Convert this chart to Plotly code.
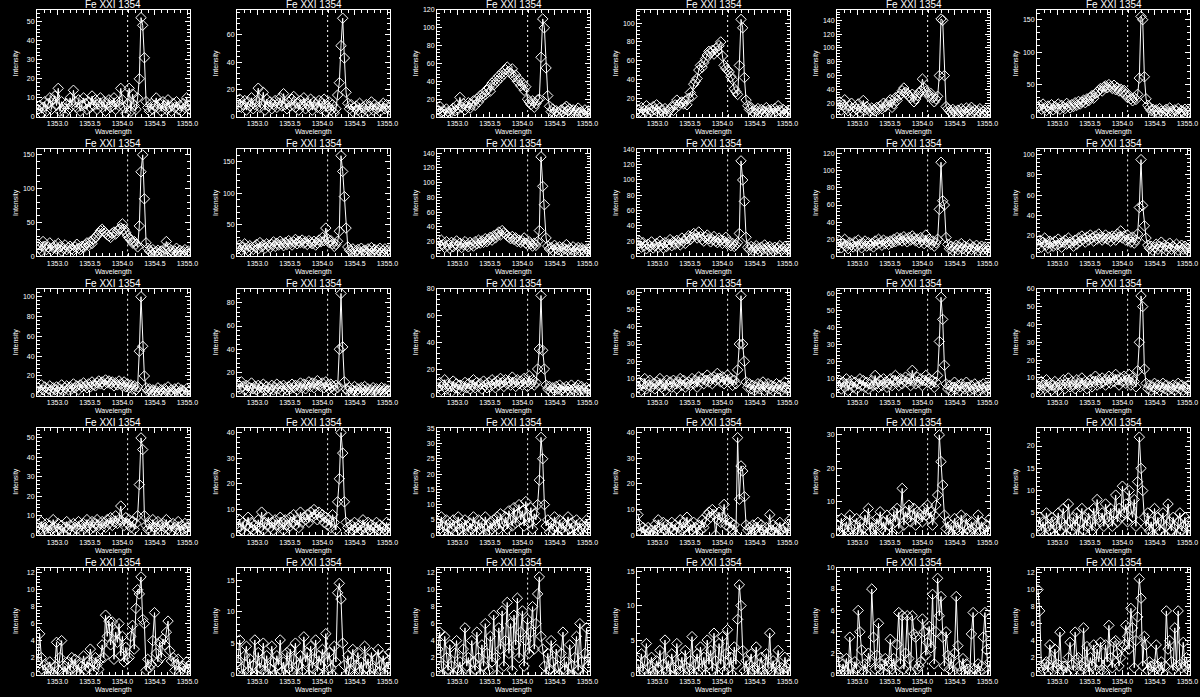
import numpy as np
import plotly.graph_objects as go
from plotly.subplots import make_subplots

# ---------------- data ----------------
TITLE = "Fe XXI 1354"
X_LABEL = "Wavelength"
Y_LABEL = "Intensity"
REST_WAVELENGTH = 1354.08
WAVE_START = 1352.70
WAVE_STEP = 0.026
N_PIX = 91
wavelength = np.round(WAVE_START + WAVE_STEP * np.arange(N_PIX), 3)
X_TICKS = [1353.0, 1353.5, 1354.0, 1354.5, 1355.0]

I01 = [4, 6, 2, 5, 8, 3, 7, 10, 4, 9, 11, 6, 15, 3, 8, 5, 2, 7, 4, 10, 6, 14, 8, 5, 9, 3, 6, 10, 7, 4,
       8, 5, 11, 6, 9, 4, 7, 10, 5, 8, 3, 7, 9, 5, 6, 10, 4, 8, 6, 15, 9, 5, 2, 7, 15, 3, 12, 6, 4, 10,
       20, 52, 48, 31, 8, 5, 3, 7, 4, 6, 10, 5, 7, 3, 8, 6, 4, 9, 5, 3, 7, 5, 8, 4, 6, 3, 7, 5, 10, 6, 4]
I02 = [10, 13, 7, 9, 12, 5, 11, 8, 14, 6, 9, 12, 21, 7, 10, 18, 5, 13, 8, 11, 6, 9, 12, 7, 10, 14, 8, 17, 9, 6,
       11, 8, 13, 15, 7, 10, 5, 12, 9, 14, 6, 10, 8, 13, 5, 11, 9, 7, 12, 6, 10, 13, 4, 8, 11, 5, 9, 3, 6, 16,
       25, 52, 72, 43, 18, 10, 6, 9, 4, 7, 8, 5, 10, 3, 7, 6, 9, 4, 8, 11, 5, 9, 6, 7, 4, 8, 10, 6, 9, 7, 5]
I03 = [8, 12, 5, 7, 3, 9, 6, 4, 8, 10, 7, 13, 9, 22, 11, 15, 8, 12, 16, 10, 14, 18, 13, 20, 17, 24, 22, 27, 25, 30,
       33, 29, 38, 36, 42, 40, 46, 44, 50, 48, 53, 56, 51, 49, 54, 45, 47, 40, 42, 35, 38, 30, 34, 20, 17, 14, 18, 11, 15, 19,
       20, 67, 110, 100, 55, 24, 12, 6, 9, 4, 7, 5, 3, 8, 6, 10, 12, 7, 9, 5, 8, 4, 7, 10, 5, 6, 3, 8, 5, 7, 4]
I04 = [8, 5, 10, 3, 7, 12, 4, 9, 6, 11, 8, 13, 5, 10, 7, 4, 9, 3, 6, 8, 11, 7, 13, 18, 12, 15, 16, 14, 17, 13,
       20, 26, 22, 35, 38, 41, 50, 55, 53, 58, 62, 66, 70, 68, 71, 67, 73, 70, 76, 80, 65, 55, 52, 50, 48, 43, 40, 30, 27, 24,
       55, 104, 95, 42, 18, 12, 8, 10, 6, 4, 7, 9, 5, 8, 3, 6, 10, 7, 5, 8, 4, 9, 6, 12, 7, 5, 8, 3, 6, 4, 7]
I05 = [15, 22, 10, 18, 25, 12, 9, 16, 20, 8, 14, 11, 19, 7, 13, 24, 10, 15, 12, 8, 13, 10, 9, 14, 11, 16, 12, 20, 15, 18,
       22, 25, 14, 19, 28, 24, 30, 33, 38, 42, 36, 34, 30, 28, 33, 22, 26, 31, 35, 38, 55, 42, 37, 35, 30, 34, 28, 22, 26, 30,
       60, 142, 140, 60, 15, 12, 9, 6, 11, 8, 5, 10, 7, 12, 9, 6, 13, 8, 11, 14, 7, 10, 6, 9, 12, 5, 8, 10, 7, 6, 9]
I06 = [15, 18, 12, 20, 14, 10, 17, 13, 19, 11, 16, 14, 20, 12, 18, 15, 13, 21, 17, 14, 19, 16, 22, 18, 24, 20, 23, 26, 22, 28,
       25, 30, 33, 29, 36, 38, 41, 44, 40, 46, 48, 45, 50, 47, 44, 49, 42, 45, 40, 43, 38, 41, 35, 30, 33, 28, 25, 30, 27, 35,
       60, 155, 150, 62, 28, 18, 14, 10, 12, 8, 11, 7, 13, 9, 6, 10, 12, 8, 14, 9, 7, 11, 9, 13, 6, 10, 8, 12, 9, 7, 10]
I07 = [18, 12, 8, 22, 15, 10, 14, 20, 9, 13, 16, 11, 19, 14, 8, 12, 17, 10, 13, 15, 11, 9, 14, 18, 12, 10, 15, 13, 17, 20,
       16, 22, 19, 25, 28, 31, 34, 38, 40, 37, 35, 32, 30, 28, 34, 36, 33, 38, 40, 42, 48, 40, 35, 30, 27, 24, 20, 22, 18, 14,
       45, 125, 150, 85, 20, 12, 8, 6, 10, 5, 7, 9, 4, 8, 6, 11, 22, 13, 7, 9, 5, 8, 12, 6, 9, 4, 7, 10, 6, 8, 5]
I08 = [12, 18, 10, 15, 20, 13, 9, 17, 14, 11, 16, 19, 12, 22, 15, 18, 13, 20, 17, 14, 19, 23, 16, 21, 18, 24, 20, 17, 22, 19,
       25, 21, 18, 23, 27, 20, 24, 22, 26, 21, 23, 19, 25, 22, 20, 24, 18, 21, 26, 23, 30, 25, 45, 28, 22, 25, 20, 16, 19, 24,
       40, 160, 135, 95, 45, 15, 10, 8, 12, 6, 9, 11, 7, 13, 8, 10, 6, 12, 9, 14, 8, 11, 7, 10, 13, 6, 9, 12, 8, 10, 7]
I09 = [18, 14, 22, 16, 12, 20, 15, 11, 19, 13, 17, 21, 14, 18, 12, 16, 20, 15, 13, 19, 16, 14, 20, 17, 22, 18, 21, 19, 24, 20,
       23, 26, 22, 28, 25, 30, 33, 29, 35, 32, 30, 28, 26, 24, 27, 23, 25, 20, 22, 19, 21, 25, 18, 16, 20, 17, 14, 18, 15, 20,
       35, 135, 95, 70, 25, 14, 10, 12, 8, 15, 11, 9, 13, 7, 12, 10, 16, 8, 11, 9, 13, 7, 10, 12, 8, 11, 9, 6, 10, 8, 12]
I10 = [15, 20, 12, 18, 14, 10, 16, 13, 19, 11, 14, 17, 12, 20, 15, 11, 18, 13, 16, 22, 14, 19, 16, 21, 18, 15, 24, 20, 17, 23,
       27, 22, 25, 30, 28, 24, 32, 26, 22, 20, 25, 28, 23, 19, 22, 26, 20, 18, 24, 21, 17, 20, 25, 16, 19, 14, 17, 13, 15, 18,
       30, 125, 100, 72, 25, 12, 9, 13, 8, 11, 14, 10, 7, 12, 9, 15, 11, 8, 13, 10, 7, 12, 9, 11, 14, 8, 10, 13, 9, 11, 8]
I11 = [13, 18, 10, 15, 20, 12, 9, 16, 14, 11, 17, 12, 19, 14, 10, 15, 18, 12, 16, 13, 15, 11, 18, 14, 20, 16, 13, 19, 15, 17,
       14, 18, 16, 20, 17, 22, 19, 21, 18, 23, 20, 17, 22, 19, 24, 21, 18, 20, 16, 22, 19, 15, 25, 17, 20, 14, 18, 12, 16, 20,
       55, 110, 65, 60, 22, 14, 9, 12, 7, 10, 13, 8, 11, 15, 9, 12, 7, 10, 14, 8, 11, 9, 13, 7, 10, 12, 8, 11, 9, 6, 10]
I12 = [12, 16, 9, 14, 18, 11, 8, 15, 13, 10, 15, 11, 17, 13, 9, 14, 16, 12, 18, 14, 13, 10, 16, 12, 18, 15, 20, 17, 14, 19,
       16, 21, 18, 15, 20, 17, 22, 19, 16, 18, 21, 17, 19, 15, 20, 18, 16, 22, 19, 25, 18, 20, 16, 21, 17, 14, 19, 13, 16, 22,
       48, 95, 50, 30, 18, 11, 8, 10, 6, 9, 12, 7, 10, 14, 8, 11, 6, 9, 13, 7, 10, 8, 12, 6, 9, 11, 7, 10, 8, 5, 9]
I13 = [8, 5, 11, 6, 9, 4, 7, 10, 5, 8, 6, 9, 4, 7, 11, 5, 8, 10, 6, 9, 7, 12, 8, 10, 6, 11, 9, 13, 10, 8,
       12, 9, 14, 11, 10, 13, 15, 12, 14, 11, 16, 13, 15, 12, 14, 10, 13, 11, 15, 12, 10, 14, 9, 12, 8, 11, 7, 10, 6, 9,
       45, 100, 50, 20, 8, 5, 7, 4, 6, 3, 5, 8, 4, 6, 3, 7, 5, 9, 4, 6, 3, 7, 5, 8, 4, 6, 5, 3, 7, 4, 6]
I14 = [10, 6, 12, 8, 5, 9, 4, 7, 11, 6, 8, 5, 9, 3, 7, 10, 5, 8, 4, 6, 9, 5, 7, 10, 6, 8, 4, 9, 7, 5,
       8, 6, 10, 7, 9, 5, 8, 11, 7, 10, 6, 9, 12, 8, 11, 7, 10, 13, 9, 8, 11, 7, 12, 9, 6, 10, 8, 5, 9, 7,
       40, 88, 42, 12, 6, 4, 7, 3, 5, 8, 4, 6, 3, 7, 5, 8, 4, 6, 3, 5, 7, 4, 6, 3, 5, 7, 4, 6, 3, 5, 4]
I15 = [6, 10, 4, 8, 12, 5, 9, 7, 3, 11, 6, 9, 5, 8, 4, 7, 10, 6, 9, 5, 8, 12, 6, 10, 7, 9, 5, 11, 8, 6,
       10, 7, 12, 9, 6, 11, 8, 13, 10, 7, 12, 9, 11, 8, 14, 10, 7, 12, 9, 11, 8, 13, 10, 7, 15, 9, 12, 8, 10, 20,
       35, 75, 34, 20, 8, 5, 7, 3, 6, 4, 7, 5, 8, 4, 6, 3, 7, 5, 4, 8, 5, 3, 6, 8, 4, 7, 5, 3, 6, 4, 5]
I16 = [5, 8, 3, 7, 10, 4, 6, 9, 5, 7, 4, 8, 6, 10, 5, 7, 3, 9, 6, 8, 5, 9, 7, 4, 8, 10, 6, 9, 5, 7,
       8, 6, 10, 7, 9, 5, 11, 8, 10, 7, 9, 12, 8, 10, 7, 11, 9, 13, 10, 8, 11, 7, 9, 12, 8, 10, 6, 9, 7, 15,
       30, 58, 30, 20, 8, 5, 7, 4, 6, 3, 5, 7, 4, 6, 8, 3, 5, 7, 4, 6, 3, 5, 7, 4, 6, 3, 5, 8, 4, 5, 3]
I17 = [6, 9, 4, 8, 5, 10, 3, 7, 9, 5, 8, 4, 7, 10, 6, 9, 5, 8, 4, 7, 9, 6, 12, 7, 5, 9, 6, 10, 8, 5,
       7, 10, 6, 9, 12, 8, 6, 10, 7, 9, 11, 8, 10, 6, 15, 9, 7, 11, 8, 10, 6, 9, 12, 8, 10, 7, 9, 5, 8, 12,
       32, 58, 45, 18, 7, 4, 6, 3, 5, 8, 4, 6, 3, 7, 5, 4, 8, 5, 3, 6, 4, 7, 5, 3, 6, 4, 7, 5, 3, 6, 4]
I18 = [5, 3, 8, 6, 4, 9, 5, 7, 3, 6, 8, 5, 3, 7, 6, 9, 4, 7, 10, 5, 8, 6, 4, 9, 7, 5, 10, 6, 8, 4,
       7, 9, 5, 8, 11, 6, 9, 7, 10, 8, 6, 9, 11, 7, 10, 8, 12, 9, 6, 10, 8, 11, 7, 9, 12, 6, 10, 8, 5, 14,
       30, 56, 50, 15, 7, 4, 6, 3, 5, 7, 4, 6, 3, 5, 7, 4, 6, 3, 5, 4, 6, 3, 5, 7, 4, 6, 3, 5, 4, 6, 3]
I19 = [5, 3, 7, 2, 4, 6, 1, 5, 3, 8, 4, 2, 6, 3, 5, 1, 4, 7, 3, 5, 2, 6, 4, 3, 7, 5, 2, 6, 4, 8,
       5, 3, 7, 4, 6, 8, 5, 3, 7, 6, 4, 8, 6, 9, 5, 7, 10, 6, 8, 15, 7, 5, 9, 6, 8, 4, 7, 3, 6, 10,
       26, 50, 44, 10, 5, 3, 6, 2, 8, 4, 3, 7, 5, 2, 6, 4, 8, 3, 5, 2, 6, 4, 3, 7, 2, 5, 3, 6, 4, 2, 5]
I20 = [3, 6, 2, 5, 1, 4, 7, 3, 5, 2, 4, 1, 6, 3, 9, 2, 5, 4, 7, 3, 5, 2, 6, 4, 3, 7, 5, 2, 6, 4,
       3, 7, 5, 8, 4, 6, 3, 9, 5, 7, 6, 8, 5, 9, 7, 10, 8, 6, 9, 7, 8, 5, 7, 4, 6, 3, 8, 5, 2, 13,
       22, 40, 32, 13, 5, 3, 1, 4, 2, 5, 3, 1, 4, 2, 6, 3, 1, 5, 2, 4, 1, 3, 5, 2, 4, 1, 3, 2, 5, 1, 3]
I21 = [4, 2, 6, 1, 3, 5, 0, 4, 2, 5, 3, 1, 6, 2, 4, 0, 5, 3, 1, 4, 2, 6, 3, 1, 5, 2, 4, 0, 6, 3,
       1, 4, 2, 5, 3, 6, 2, 7, 4, 3, 6, 2, 8, 5, 3, 9, 4, 7, 10, 5, 8, 3, 11, 6, 4, 9, 2, 7, 5, 10,
       18, 32, 25, 10, 3, 5, 1, 4, 2, 6, 3, 0, 5, 2, 4, 1, 3, 6, 2, 4, 0, 3, 5, 1, 4, 2, 0, 3, 5, 2, 4]
I22 = [8, 4, 1, 3, 0, 2, 3, 1, 2, 0, 4, 2, 6, 3, 1, 5, 2, 4, 0, 3, 5, 2, 4, 1, 3, 6, 2, 5, 3, 7,
       1, 4, 2, 5, 3, 0, 4, 2, 6, 3, 5, 8, 9, 7, 10, 8, 0, 6, 9, 5, 7, 12, 4, 6, 3, 5, 2, 4, 0, 38,
       14, 27, 25, 15, 4, 2, 3, 0, 4, 2, 3, 5, 1, 4, 2, 0, 3, 1, 8, 2, 4, 1, 3, 0, 5, 2, 1, 3, 0, 4, 6]
I23 = [3, 1, 5, 0, 2, 4, 1, 6, 2, 0, 3, 5, 1, 4, 0, 2, 6, 3, 8, 1, 4, 2, 0, 5, 3, 7, 2, 4, 1, 6,
       3, 5, 0, 7, 4, 8, 2, 6, 14, 3, 7, 5, 9, 4, 6, 8, 3, 7, 5, 6, 4, 8, 6, 9, 5, 7, 3, 6, 9, 12,
       30, 22, 15, 6, 2, 4, 1, 3, 0, 5, 2, 4, 1, 6, 0, 3, 5, 2, 1, 4, 2, 0, 3, 6, 1, 4, 2, 0, 3, 1, 5]
I24 = [2, 4, 1, 3, 0, 5, 2, 1, 4, 3, 0, 2, 5, 1, 3, 6, 2, 0, 7, 3, 1, 4, 2, 5, 0, 3, 6, 1, 4, 2,
       5, 3, 1, 6, 2, 8, 4, 3, 5, 2, 7, 4, 3, 6, 2, 5, 9, 3, 6, 4, 11, 5, 7, 3, 10, 6, 4, 8, 2, 12,
       22, 15, 10, 4, 2, 5, 1, 3, 0, 6, 2, 4, 1, 3, 5, 0, 2, 7, 3, 1, 4, 2, 0, 3, 5, 1, 2, 4, 0, 3, 2]
I25 = [1.5, 4.8, 2.0, 0.5, 1.2, 0, 0.8, 1.5, 0.3, 0, 1.0, 3.8, 0.5, 2.0, 4.0, 0.2, 1.0, 0, 1.5, 0.5,
       2.0, 0.8, 1.8, 0.3, 1.2, 0, 1.0, 2.2, 0.5, 1.5, 0.8, 3.0, 1.5, 0.4, 2.0, 1.2, 0.6, 1.8, 3.5, 2.0,
       7.0, 4.5, 6.3, 3.5, 6.2, 1.8, 5.0, 3.8, 6.0, 2.2, 4.5, 1.5, 3.2, 1.8, 2.0, 4.5, 5.8, 3.0, 7.8, 10.0,
       9.5, 11.5, 6.5, 6.0, 0.5, 1.8, 0.8, 1.2, 4.0, 7.3, 2.5, 1.5, 3.8, 2.0, 4.2, 3.5, 5.0, 6.3, 2.8, 1.6,
       2.0, 0.5, 1.2, 1.8, 0.3, 0.8, 1.0, 0.4, 1.5, 0.6, 1.2]
I26 = [2.0, 5.5, 1.0, 0, 3.0, 4.5, 0.5, 2.5, 0, 1.5, 5.5, 0, 3.5, 1.0, 2.0, 5.0, 0.5, 3.0, 0, 1.0,
       4.5, 2.0, 0, 3.0, 1.5, 5.5, 0.5, 2.0, 0, 3.5, 1.0, 4.0, 0.5, 2.5, 5.0, 0, 1.5, 3.0, 0.5, 6.0,
       2.0, 3.5, 0, 4.5, 1.0, 2.5, 5.5, 0.5, 3.0, 1.5, 4.0, 0, 6.5, 2.0, 3.5, 1.0, 0, 4.5, 2.0, 13.0,
       14.5, 12.0, 5.0, 1.5, 0, 3.0, 0.5, 2.0, 4.0, 0, 1.5, 3.5, 0.5, 2.0, 0, 4.5, 1.0, 2.5, 0, 3.5,
       1.0, 0, 2.5, 4.0, 0.5, 1.5, 3.0, 0, 2.0, 1.0, 3.5]
I27 = [3.0, 5.0, 1.0, 0, 4.5, 2.0, 0.5, 3.5, 1.0, 0, 2.5, 4.0, 0.5, 1.5, 0, 3.0, 5.5, 1.0, 2.0, 0,
       4.0, 1.5, 0.5, 5.0, 2.0, 0, 3.5, 1.0, 6.0, 2.5, 0.5, 4.5, 1.5, 7.0, 2.0, 0, 5.5, 3.0, 7.5, 1.0,
       4.0, 8.5, 2.5, 6.0, 0.5, 7.0, 3.5, 9.0, 2.0, 5.0, 7.5, 1.0, 4.0, 6.5, 2.5, 5.0, 8.0, 3.0, 6.0, 9.5,
       11.5, 4.5, 3.0, 1.0, 0, 2.5, 0.5, 4.0, 1.5, 0, 3.0, 1.0, 0, 2.5, 5.0, 0.5, 1.5, 0, 3.5, 1.0,
       0, 2.0, 4.5, 0.5, 6.0, 1.5, 0, 2.5, 5.5, 1.0, 2.0]
I28 = [1.5, 0, 3.0, 0.5, 2.0, 4.5, 0, 1.0, 2.5, 0.5, 0, 2.0, 1.0, 3.5, 0, 1.5, 5.0, 0.5, 2.0, 0,
       3.0, 1.0, 0, 4.5, 1.5, 0.5, 2.5, 0, 3.5, 1.0, 0.5, 2.0, 5.5, 0, 1.5, 3.0, 0.5, 4.0, 1.0, 2.5,
       0, 5.0, 1.5, 3.5, 0.5, 6.0, 2.0, 0, 4.5, 1.5, 5.5, 0.5, 3.0, 6.5, 1.0, 2.5, 0, 4.0, 1.5, 8.0,
       13.0, 10.0, 3.5, 0.5, 2.0, 0, 1.5, 3.0, 0.5, 1.0, 4.0, 0, 1.5, 2.5, 0.5, 0, 3.0, 1.0, 6.0, 0.5,
       2.0, 0, 1.5, 3.5, 0.5, 1.0, 0, 2.5, 1.0, 0, 1.5]
I29 = [1.8, 0.5, 0, 1.0, 0.3, 1.5, 0, 3.5, 0.8, 0, 1.2, 0.5, 6.0, 4.0, 2.3, 0.3, 1.0, 0, 2.0, 1.2,
       8.0, 3.5, 0.5, 1.8, 4.8, 0.5, 1.0, 0.2, 1.5, 0.8, 1.2, 3.3, 0.5, 1.5, 0.2, 2.8, 5.8, 1.0, 5.5, 0.5,
       2.0, 5.5, 1.5, 0.3, 5.5, 3.8, 3.5, 0.5, 0.8, 1.2, 5.2, 4.0, 1.8, 3.0, 4.5, 2.5, 7.5, 1.0, 4.0, 9.0,
       5.5, 7.3, 3.5, 0.8, 4.0, 1.8, 0.5, 1.5, 0.3, 2.0, 7.3, 2.7, 0.8, 0.3, 1.5, 0, 1.0, 0.5, 0, 3.8,
       5.8, 0.5, 0, 1.0, 0.3, 0.8, 3.5, 5.8, 2.3, 0, 1.2]
I30 = [10.0, 7.5, 1.0, 0.5, 1.2, 1.5, 0.3, 3.5, 1.8, 0.5, 3.0, 0.8, 1.2, 5.0, 0.5, 1.0, 1.0, 0.2, 2.0, 3.8,
       1.2, 0.5, 5.0, 1.8, 2.0, 0.5, 1.0, 5.5, 0.8, 3.3, 0.3, 2.0, 1.0, 3.5, 0.5, 3.0, 1.5, 3.8, 0.5, 0.3,
       3.5, 1.5, 5.8, 2.0, 0.8, 3.8, 4.0, 2.5, 1.0, 2.0, 3.2, 3.5, 5.8, 4.5, 3.0, 7.8, 5.5, 0.8, 4.0, 6.8,
       11.3, 9.0, 1.0, 4.5, 3.5, 0.5, 1.5, 1.0, 0.3, 1.2, 3.5, 1.0, 0.5, 1.5, 0.2, 1.0, 7.5, 3.0, 4.0, 1.5,
       0.5, 5.5, 1.0, 7.5, 1.2, 0.8, 3.8, 1.0, 2.0, 0.5, 1.2]

SPECTRA = [I01, I02, I03, I04, I05, I06, I07, I08, I09, I10, I11, I12, I13, I14, I15,
           I16, I17, I18, I19, I20, I21, I22, I23, I24, I25, I26, I27, I28, I29, I30]
Y_MAX = [56, 78, 120, 114, 155, 165,
         158, 170, 145, 140, 125, 105,
         108, 92, 80, 62, 63, 60,
         55, 41.7, 35, 41.7, 32, 24,
         12.6, 17, 12.6, 15.5, 10, 12.6]
Y_DTICK = [10, 20, 20, 20, 20, 50,
           50, 50, 20, 20, 20, 20,
           20, 20, 20, 10, 10, 10,
           10, 10, 5, 10, 10, 5,
           2, 5, 2, 5, 2, 2]

# ---------------- figure ----------------
NR, NC = 5, 6
W, H = 1200, 697
fig = make_subplots(rows=NR, cols=NC)
FONT = "Liberation Sans"

annotations = []
for k, spec in enumerate(SPECTRA):
    r, c = divmod(k, NC)
    fig.add_trace(go.Scatter(
        x=wavelength, y=spec, mode="lines+markers",
        line=dict(color="white", width=1),
        marker=dict(symbol="diamond-open", size=8, color="white", line=dict(width=1, color="white")),
        showlegend=False, hoverinfo="skip"), row=r + 1, col=c + 1)
    fig.add_vline(x=REST_WAVELENGTH, row=r + 1, col=c + 1,
                  line=dict(color="white", width=1, dash="2px,3px"), layer="above")

    x0 = (37 + 200 * c) / W
    x1 = (190 + 200 * c) / W
    top = 10 + 139.4 * r
    bot = 117 + 139.4 * r
    n = k + 1
    xa = "xaxis" if n == 1 else f"xaxis{n}"
    ya = "yaxis" if n == 1 else f"yaxis{n}"
    fig.layout[xa].update(
        domain=[x0, x1], range=[1352.685, 1355.04],
        tickvals=X_TICKS, ticktext=[f"{v:.1f}" for v in X_TICKS],
        ticks="inside", ticklen=5, tickcolor="white", tickwidth=1,
        minor=dict(ticks="inside", ticklen=3, tickcolor="white", dtick=0.1, tick0=1353.0),
        showline=True, linecolor="white", linewidth=1, mirror="allticks",
        showgrid=False, zeroline=False, automargin=False,
        tickfont=dict(family=FONT, size=7, color="white"))
    fig.layout[ya].update(
        domain=[1 - bot / H, 1 - top / H], range=[0, Y_MAX[k]],
        dtick=Y_DTICK[k], tick0=0,
        ticks="inside", ticklen=5, tickcolor="white", tickwidth=1,
        minor=dict(ticks="inside", ticklen=3, tickcolor="white", dtick=Y_DTICK[k] / 5),
        showline=True, linecolor="white", linewidth=1, mirror="allticks",
        showgrid=False, zeroline=False, automargin=False,
        tickfont=dict(family=FONT, size=7, color="white"))

    xc = (x0 + x1) / 2
    annotations.append(dict(text=TITLE, x=xc, y=1 - (4.5 + 139.4 * r) / H, xref="paper", yref="paper",
                            showarrow=False, xanchor="center", yanchor="middle",
                            font=dict(family=FONT, size=10, color="white")))
    annotations.append(dict(text=X_LABEL, x=xc, y=1 - (132.5 + 139.4 * r) / H, xref="paper", yref="paper",
                            showarrow=False, xanchor="center", yanchor="middle",
                            font=dict(family=FONT, size=7, color="white")))
    annotations.append(dict(text=Y_LABEL, x=(16 + 200 * c) / W, y=1 - (top + bot) / 2 / H,
                            xref="paper", yref="paper", textangle=-90,
                            showarrow=False, xanchor="center", yanchor="middle",
                            font=dict(family=FONT, size=7, color="white")))

fig.update_layout(width=W, height=H, margin=dict(l=0, r=0, t=0, b=0),
                  paper_bgcolor="black", plot_bgcolor="black",
                  annotations=annotations, showlegend=False)

fig.write_html("out.html", config={"displayModeBar": False},
               post_script="document.body.style.margin='0';document.body.style.background='black';")
